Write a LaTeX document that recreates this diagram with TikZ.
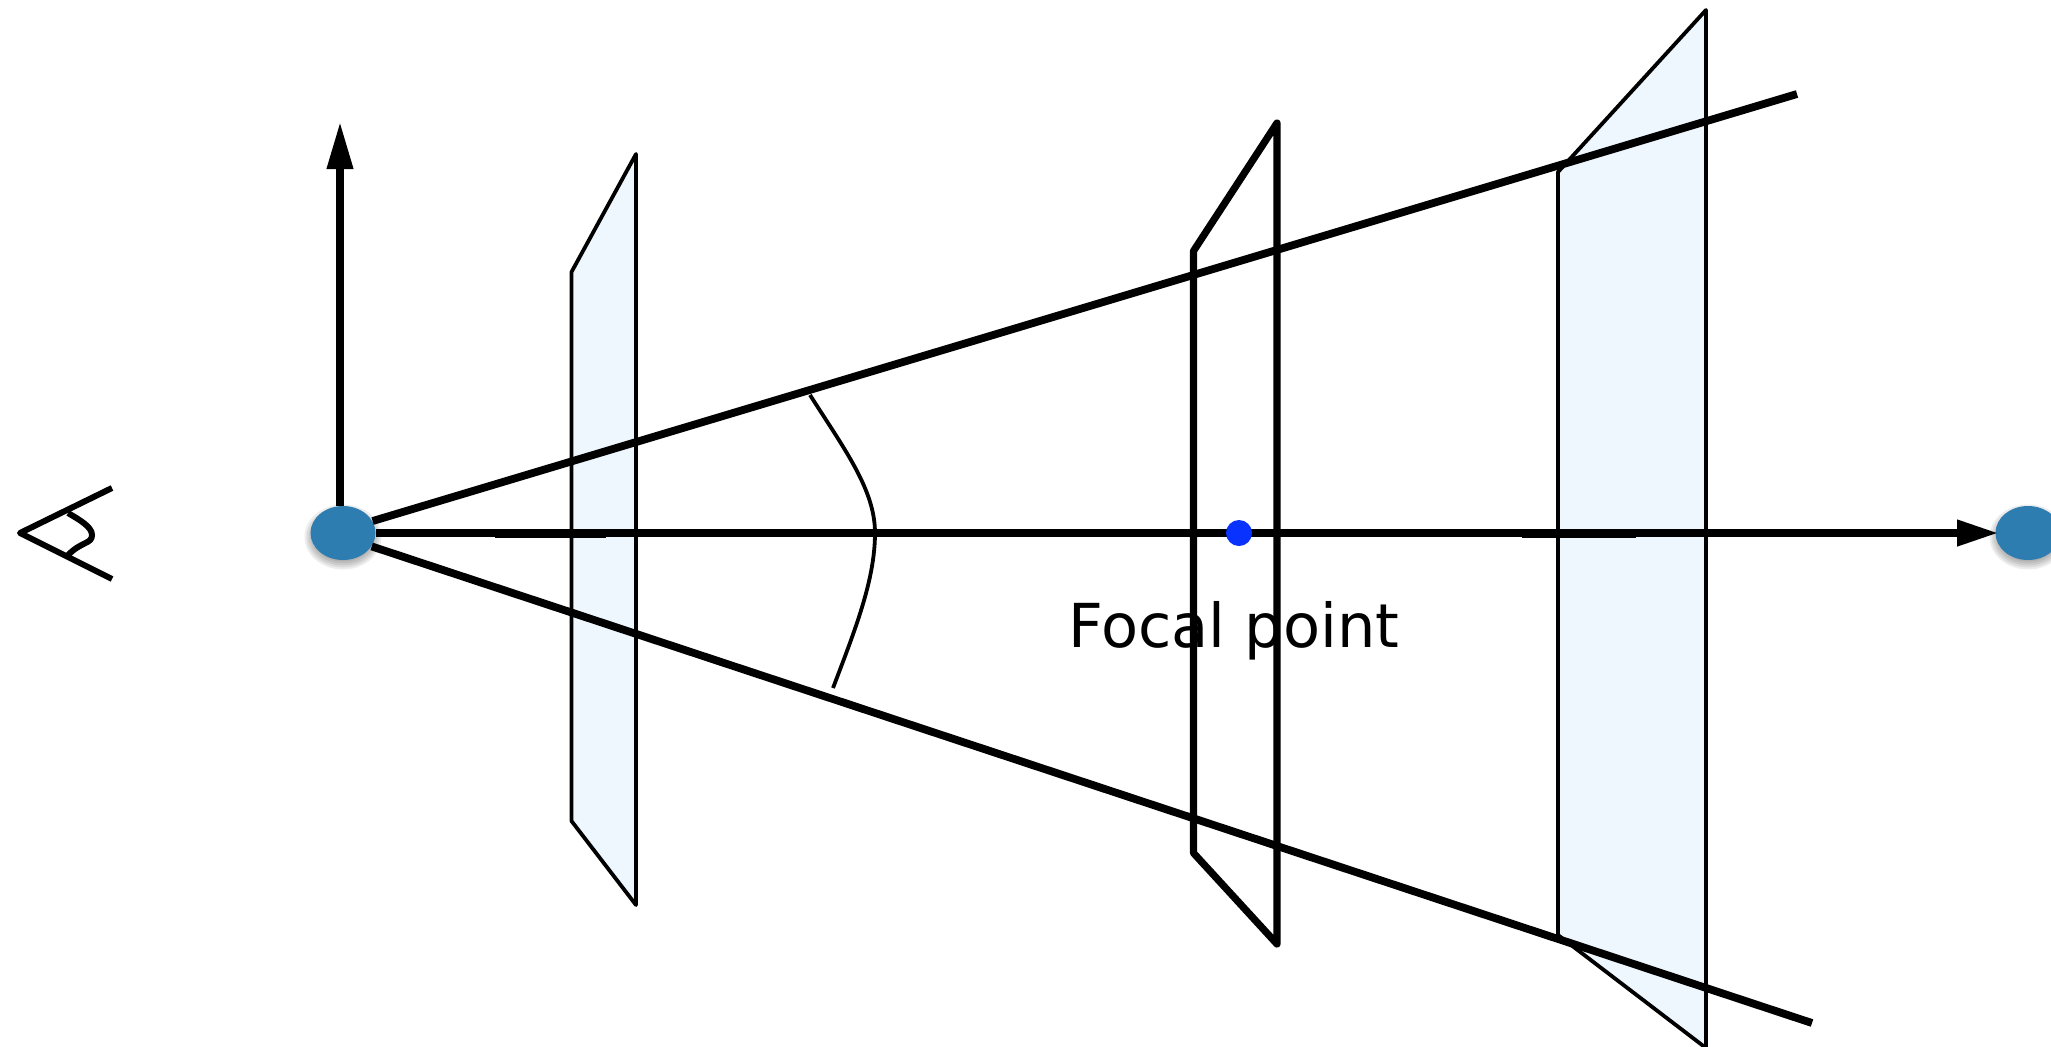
\documentclass[tikz,border=0pt]{standalone}
\usepackage{xcolor}
\usepackage{fontspec}
\setmainfont{DejaVu Sans}
\definecolor{dotblue}{HTML}{2E7DB0}
\definecolor{focalblue}{HTML}{0A32FF}
\definecolor{planeblue}{HTML}{EEF6FE}
\usetikzlibrary{arrows.meta,positioning,shapes.geometric}
\tikzset{
  rayline/.style={line width=3.6pt},
  sideline/.style={line width=3.9pt},
  thinplane/.style={draw=black, fill=planeblue, line width=1.9pt, line join=round},
  thickplane/.style={draw=black, line width=3.6pt, line join=round},
  eyedot/.style={ellipse, fill=dotblue, minimum width=32.5pt, minimum height=27pt, inner sep=0pt},
}

\begin{document}
\begin{tikzpicture}[x=0.5pt, y=-0.5pt]
  \useasboundingbox (0,0) rectangle (2051,1046);

  \draw[thinplane] (571.5,272) -- (636,154) -- (636,905) -- (571.5,821) -- cycle;
  \draw[thinplane] (1558,172) -- (1706,10) -- (1706,1048) -- (1558,935) -- cycle;
  \draw[thickplane] (1193.5,251) -- (1277,123) -- (1277,944) -- (1193.5,853) -- cycle;

  \foreach \cx in {343,2028}
    \foreach \g in {-2,0,2,4,6}
      \fill[black, opacity=0.07] (\cx,537) ellipse ({32.5+\g} and {26.5+\g});

  \node[eyedot] (camera) at (343,533) {};
  \node[eyedot] (farpoint) at (2028,533) {};

  \coordinate (vtip) at (340,122);
  \coordinate (upperend) at (1797,94);
  \coordinate (lowerend) at (1812,1023);
  \coordinate (arcstart) at (810,395);
  \coordinate (arcend) at (833,688);

  \draw[rayline, -{Triangle[length=23.5pt, width=12.5pt]}] (vtip |- camera.north) -- (vtip);
  \draw[sideline] (camera.22) -- (upperend);
  \draw[sideline] (camera.-25) -- (lowerend);
  \draw[line width=1.9pt] (arcstart) .. controls (845,450) and (875,490) .. (875,533)
    .. controls (875,580) and (855,630) .. (arcend);

  \draw[rayline, -{Triangle[length=20.5pt, width=12.5pt]}, shorten >=-1.5pt] (camera.east) -- (farpoint.west);
  \draw[rayline] (495,534) -- (606,534);
  \draw[rayline] (1522,534) -- (1636,534);

  \node[circle, fill=focalblue, minimum size=13pt, inner sep=0pt] (focal) at (1239,533) {};
  \node[font=\fontsize{30.3}{30.3}\selectfont, anchor=base west, inner sep=0pt] (focallabel) at (1068,647) {Focal point};

  \coordinate (eyetop) at (112,488);
  \coordinate (eyetip) at (20,533);
  \coordinate (eyelow) at (112,579);
  \draw[line width=3pt, line join=round] (eyetop) -- (eyetip) -- (eyelow);
  \draw[line width=3pt] (68,513) .. controls (80,520) and (92,527) .. (92,535)
    .. controls (92,544) and (82,541) .. (68,555);
\end{tikzpicture}
\end{document}
